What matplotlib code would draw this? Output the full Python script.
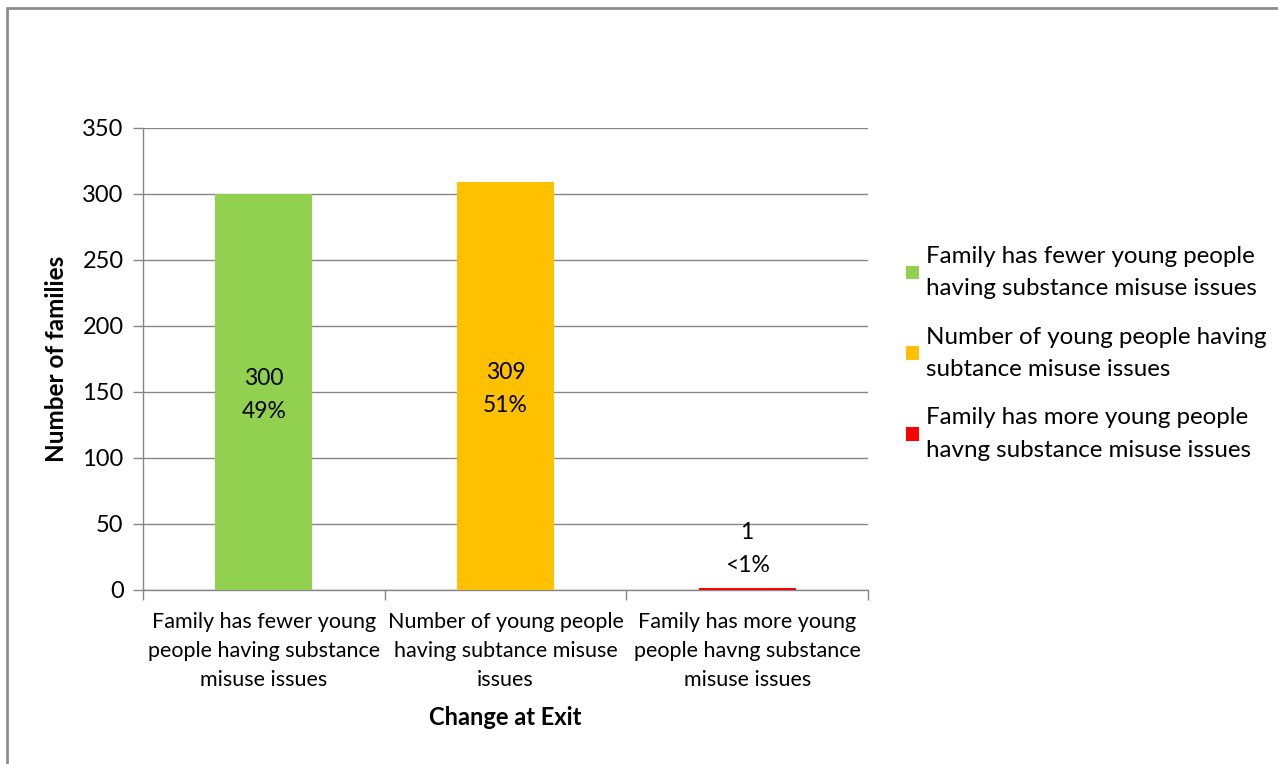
import numpy as np
import matplotlib
matplotlib.use('Agg')
import matplotlib.pyplot as plt
from matplotlib.patches import Rectangle

plt.rcParams['font.family'] = ['Lato', 'DejaVu Sans']

categories = ['Family has fewer young\npeople having substance\nmisuse issues',
              'Number of young people\nhaving subtance misuse\nissues',
              'Family has more young\npeople havng substance\nmisuse issues']
legend_labels = ['Family has fewer young people\nhaving substance misuse issues',
                 'Number of young people having\nsubtance misuse issues',
                 'Family has more young people\nhavng substance misuse issues']
values = [300, 309, 1]
percents = ['49%', '51%', '<1%']
colors = ['#92D050', '#FFC000', '#FF0000']

fig = plt.figure(figsize=(12.78, 7.64), dpi=100)
ax = fig.add_axes([143/1278, 1 - 590/764, (868-143)/1278, (590-128)/764])

# figure frame
fig.patches.append(Rectangle((7/1278, -0.1), 1.2, 1 - 8/764 + 0.1, transform=fig.transFigure,
                             fill=False, edgecolor='#8c8c8c', linewidth=2))

x = np.arange(len(values))
bars = ax.bar(x, values, width=0.4, color=colors, zorder=3)
bars[2].set_height(1.5)

ax.set_xlim(-0.5, 2.5)
ax.set_ylim(0, 350)
ax.set_yticks(np.arange(0, 351, 50))
ax.yaxis.grid(True, color='#868686', linewidth=1)
ax.set_axisbelow(True)
ax.tick_params(axis='y', labelsize=17, color='#868686', length=7, width=1, pad=7)
ax.set_xticks(x)
ax.set_xticklabels(categories, fontsize=15.5, linespacing=1.55)
ax.tick_params(axis='x', length=0, pad=16)
ax.set_xticks([-0.5, 0.5, 1.5, 2.5], minor=True)
ax.tick_params(axis='x', which='minor', length=7, color='#868686', width=1)
for s in ['top', 'right']:
    ax.spines[s].set_visible(False)
for s in ['left', 'bottom']:
    ax.spines[s].set_color('#868686')
    ax.spines[s].set_linewidth(1)

for i, (v, p) in enumerate(zip(values, percents)):
    if v > 50:
        ax.text(i, v / 2 - 2, '%d\n%s' % (v, p), ha='center', va='center', fontsize=16.5, linespacing=1.7, zorder=4)
    else:
        ax.text(i, v + 30, '%d\n%s' % (v, p), ha='center', va='center', fontsize=16.5, linespacing=1.7, zorder=4)

ax.set_ylabel('Number of families', fontsize=17.5, fontweight='bold', labelpad=10)
ax.set_xlabel('Change at Exit', fontsize=17, fontweight='bold', labelpad=12)

leg = ax.legend(bars, legend_labels, loc='center left', bbox_to_anchor=(1.023, 0.512),
                frameon=False, fontsize=17.4, handlelength=0.5, handleheight=0.5,
                handletextpad=0.3, labelspacing=1.12)
for t in leg.get_texts():
    t.set_linespacing(1.7)

fig.savefig('out.png', dpi=100)
